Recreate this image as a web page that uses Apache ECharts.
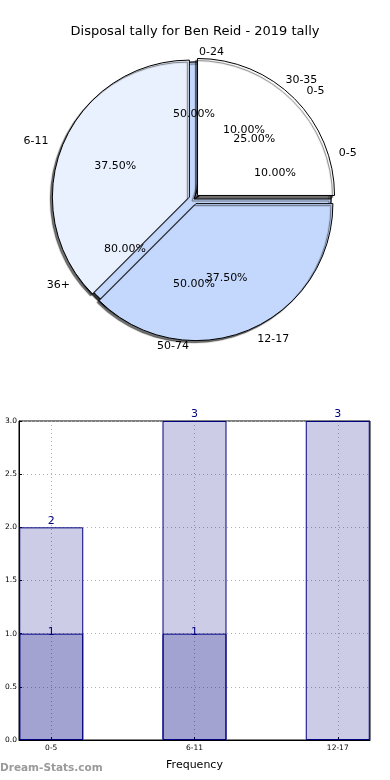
<!DOCTYPE html>
<html>
<head>
<meta charset="utf-8">
<script src="https://cdn.jsdelivr.net/npm/echarts@6/dist/echarts.min.js"></script>
<style>
html,body{margin:0;padding:0;background:#fff;}
#chart{width:390px;height:780px;}
</style>
</head>
<body>
<div id="chart"></div>
<script>
// ---- Data ----
const chartTitle = 'Disposal tally for Ben Reid - 2019 tally';
const pieALabels = ['0-5', '6-11', '12-17'];
const pieAValues = [2, 3, 3];
const pieBLabels = ['0-24', '50-74'];
const pieBValues = [1, 1];
const pieCLabels = ['0-5', '30-35', '36+'];
const pieCValues = [1, 1, 8];
const barCategories = ['0-5', '6-11', '12-17'];
const barTotals = [2, 3, 3];
const barParts = [1, 1, 0];
const watermark = 'Dream-Stats.com';

// ---- Styling ----
const FONT = 'DejaVu Sans';
const pieColors = ['#ffffff', '#eaf1fe', '#c4d8fd'];
const CX = 194, CY = 199, R = 137;

function pieData(labels, values, selected) {
  return labels.map((n, i) => ({
    name: n, value: values[i], selected: selected,
    itemStyle: { color: pieColors[i % pieColors.length] }
  }));
}
function pct(values) {
  const s = values.reduce((a, b) => a + b, 0);
  return values.map(v => (v / s * 100).toFixed(2) + '%');
}
function pieSeries(labels, values, selected, z) {
  return {
    type: 'pie', center: [CX, CY], radius: [0, R],
    startAngle: 0, clockwise: false, avoidLabelOverlap: false,
    selectedMode: selected ? 'multiple' : false, selectedOffset: 5,
    silent: true, z: z, animation: false,
    itemStyle: { borderColor: '#000', borderWidth: 1,
      shadowColor: 'rgba(0,0,0,0.55)', shadowOffsetX: -2, shadowOffsetY: 2, shadowBlur: 1 },
    label: { show: true, position: 'outside', color: '#000', fontFamily: FONT, fontSize: 11 },
    labelLine: { show: false, length: 10, length2: 0 },
    labelLayout: { hideOverlap: false },
    emphasis: { disabled: true },
    data: pieData(labels, values, selected)
  };
}
function pctSeries(labels, values, z) {
  const p = pct(values);
  return {
    type: 'pie', center: [CX, CY], radius: [R * 0.2, R],
    startAngle: 0, clockwise: false, avoidLabelOverlap: false,
    silent: true, z: z, animation: false,
    itemStyle: { color: 'rgba(0,0,0,0)', borderWidth: 0 },
    label: { show: true, position: 'inside', color: '#000', fontFamily: FONT, fontSize: 11,
      formatter: (prm) => p[prm.dataIndex] },
    labelLine: { show: false },
    labelLayout: { hideOverlap: false },
    emphasis: { disabled: true },
    data: labels.map((n, i) => ({ name: n, value: values[i] }))
  };
}

const chart = echarts.init(document.getElementById('chart'), null, { renderer: 'canvas' });
const navy = '#000080';
const barFill = 'rgba(0,0,128,0.2)';

const option = {
  backgroundColor: '#fff',
  animation: false,
  title: [
    { text: chartTitle, left: 'center', top: 20,
      textStyle: { fontFamily: FONT, fontSize: 13, fontWeight: 'normal', color: '#000' } },
    { text: watermark, left: 0, top: 763, padding: 0,
      textStyle: { fontFamily: FONT, fontSize: 10.5, fontWeight: 'bold', color: '#9a9a9a' } }
  ],
  grid: { left: 19, right: 20, top: 421, bottom: 40, show: true,
    borderColor: '#000', borderWidth: 1, backgroundColor: 'transparent' },
  xAxis: {
    type: 'value', min: -0.225, max: 2.225,
    name: 'Frequency', nameLocation: 'middle', nameGap: 20,
    nameTextStyle: { fontFamily: FONT, fontSize: 11, color: '#000' },
    axisLine: { show: true, onZero: false, lineStyle: { color: '#000' } },
    axisTick: { show: true, inside: true, length: 3, customValues: [0, 1, 2], lineStyle: { color: '#000' } },
    axisLabel: { customValues: [0, 1, 2], fontFamily: FONT, fontSize: 7.5, color: '#000', margin: 4,
      formatter: (v) => barCategories[Math.round(v)] },
    splitLine: { show: true, lineStyle: { color: '#b0b0b0', type: [1, 3], width: 1 } }
  },
  yAxis: {
    type: 'value', min: 0, max: 3, interval: 0.5,
    axisLine: { show: true, onZero: false, lineStyle: { color: '#000' } },
    axisTick: { show: true, inside: true, length: 3, lineStyle: { color: '#000' } },
    axisLabel: { fontFamily: FONT, fontSize: 7.5, color: '#000', margin: 2,
      formatter: (v) => v.toFixed(1) },
    splitLine: { show: true, lineStyle: { color: '#b0b0b0', type: [1, 3], width: 1 } }
  },
  series: [
    pieSeries(pieBLabels, pieBValues, false, 1),
    pieSeries(pieCLabels, pieCValues, false, 2),
    pieSeries(pieALabels, pieAValues, true, 3),
    pctSeries(pieBLabels, pieBValues, 4),
    pctSeries(pieCLabels, pieCValues, 4),
    pctSeries(pieALabels, pieAValues, 4),
    {
      type: 'bar', barWidth: 64, barGap: '-100%', z: 2, silent: true,
      itemStyle: { color: barFill, borderColor: navy, borderWidth: 1 },
      label: { show: true, position: 'top', distance: 1, color: navy, fontFamily: FONT, fontSize: 11,
        formatter: (p) => String(p.value[1]) },
      labelLayout: { hideOverlap: false },
      data: barCategories.map((c, i) => [i, barTotals[i]])
    },
    {
      type: 'bar', barWidth: 64, barGap: '-100%', z: 3, silent: true,
      itemStyle: { color: barFill, borderColor: navy, borderWidth: 1 },
      label: { show: true, position: 'top', distance: -4, color: navy, fontFamily: FONT, fontSize: 11,
        formatter: (p) => String(p.value[1]) },
      labelLayout: { hideOverlap: false },
      data: barCategories.map((c, i) => [i, barParts[i]]).filter(d => d[1] > 0)
    }
  ]
};
chart.setOption(option);
</script>
</body>
</html>
